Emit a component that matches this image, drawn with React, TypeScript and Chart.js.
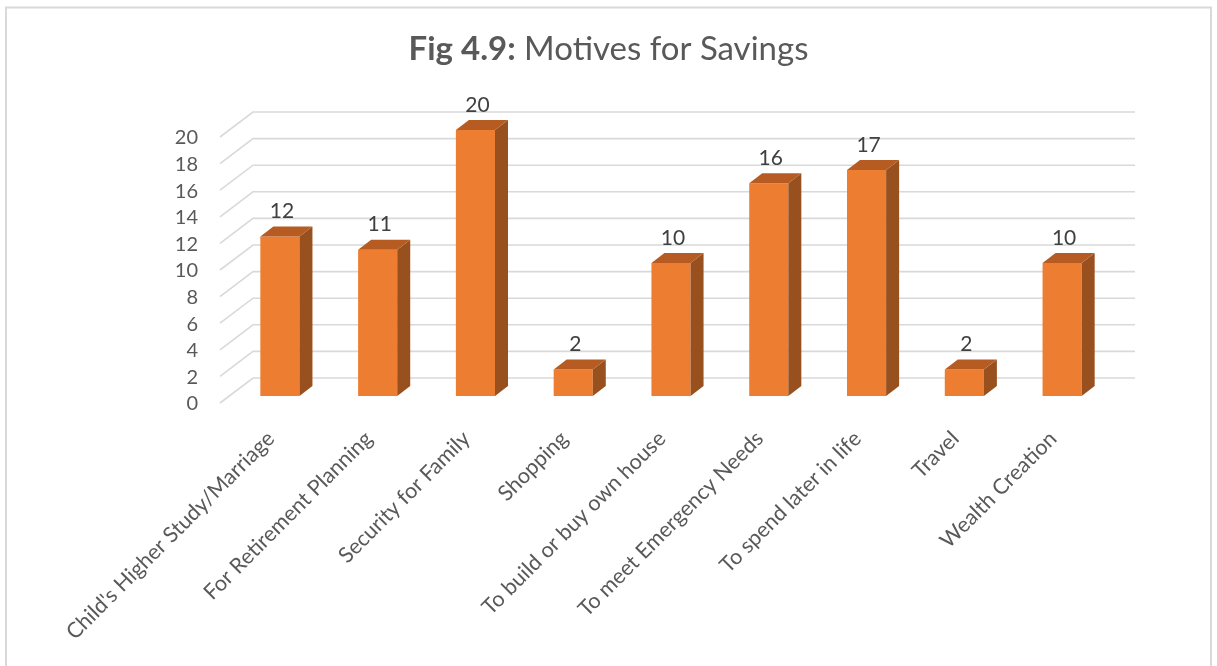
import React, { useEffect, useRef } from "react";
import { Chart, registerables } from "chart.js";

Chart.register(...registerables);

const categories = [
  "Child's Higher Study/Marriage",
  "For Retirement Planning",
  "Security for Family",
  "Shopping",
  "To build or buy own house",
  "To meet Emergency Needs",
  "To spend later in life",
  "Travel",
  "Wealth Creation",
];
const values = [12, 11, 20, 2, 10, 16, 17, 2, 10];
const yMin = 0;
const yMax = 20;
const yStep = 2;
const titleBold = "Fig 4.9:";
const titleRest = " Motives for Savings";

const FONT = "Lato, 'Open Sans', sans-serif";
const TEXT = "#595959";
const GRID = "#d9d9d9";
const FRONT = "#ED7D31";
const TOP = "#B65C22";
const SIDE = "#98501E";
const DX = 13;
const DY = 10;

const deco = {
  id: "deco",
  beforeDatasetsDraw(chart: any) {
    const ctx = chart.ctx;
    const { left, right } = chart.chartArea;
    const ys = chart.scales.y;
    ctx.save();
    // frame
    ctx.strokeStyle = GRID;
    ctx.lineWidth = 2;
    ctx.beginPath();
    ctx.moveTo(6, 700);
    ctx.lineTo(6, 7.5);
    ctx.lineTo(1211, 7.5);
    ctx.lineTo(1211, 700);
    ctx.stroke();
    // gridlines (3D walls)
    ctx.strokeStyle = GRID;
    ctx.lineWidth = 1.6;
    ys.ticks.forEach((t: any) => {
      const y = ys.getPixelForValue(t.value);
      ctx.beginPath();
      ctx.moveTo(left - 11, y + 7);
      ctx.lineTo(left + 22, y - 18);
      ctx.lineTo(right + 24, y - 18);
      ctx.stroke();
    });
    // title
    ctx.fillStyle = TEXT;
    ctx.textBaseline = "alphabetic";
    ctx.font = `bold 33px ${FONT}`;
    const w1 = ctx.measureText(titleBold).width;
    ctx.font = `33px ${FONT}`;
    const w2 = ctx.measureText(titleRest).width;
    const x0 = chart.width / 2 - (w1 + w2) / 2;
    ctx.font = `bold 33px ${FONT}`;
    ctx.textAlign = "left";
    ctx.fillText(titleBold, x0, 60);
    ctx.font = `33px ${FONT}`;
    ctx.fillText(titleRest, x0 + w1, 60);
    ctx.restore();
  },
  afterDatasetsDraw(chart: any) {
    const ctx = chart.ctx;
    const meta = chart.getDatasetMeta(0);
    ctx.save();
    meta.data.forEach((bar: any, i: number) => {
      const l = bar.x - bar.width / 2;
      const r = bar.x + bar.width / 2;
      const top = bar.y;
      const base = bar.base;
      ctx.fillStyle = SIDE;
      ctx.beginPath();
      ctx.moveTo(r, top);
      ctx.lineTo(r + DX, top - DY);
      ctx.lineTo(r + DX, base - DY);
      ctx.lineTo(r, base);
      ctx.closePath();
      ctx.fill();
      ctx.fillStyle = TOP;
      ctx.beginPath();
      ctx.moveTo(l, top);
      ctx.lineTo(l + DX, top - DY);
      ctx.lineTo(r + DX, top - DY);
      ctx.lineTo(r, top);
      ctx.closePath();
      ctx.fill();
      ctx.fillStyle = "#404040";
      ctx.font = `21px ${FONT}`;
      ctx.textAlign = "center";
      ctx.textBaseline = "middle";
      ctx.fillText(String(values[i]), bar.x + 2, top - 25);
    });
    ctx.restore();
  },
};

export default function App() {
  const ref = useRef<HTMLCanvasElement>(null);
  useEffect(() => {
    if (!ref.current) return;
    const chart = new Chart(ref.current, {
      type: "bar",
      data: {
        labels: categories,
        datasets: [
          {
            data: values,
            backgroundColor: FRONT,
            borderWidth: 0,
            categoryPercentage: 1,
            barPercentage: 0.4,
          },
        ],
      },
      options: {
        animation: false,
        responsive: false,
        maintainAspectRatio: false,
        layout: { padding: { left: 10, right: 106, top: 130, bottom: 10 } },
        plugins: {
          legend: { display: false },
          title: { display: false },
          tooltip: { enabled: false },
        },
        scales: {
          x: {
            grid: { display: false, drawTicks: false },
            border: { display: false },
            afterFit: (s: any) => {
              s.height = 260;
            },
            ticks: {
              autoSkip: false,
              maxRotation: 45,
              minRotation: 45,
              padding: 30,
              labelOffset: -9,
              color: TEXT,
              font: { family: FONT, size: 21.5 },
            },
          },
          y: {
            min: yMin,
            max: yMax,
            grid: { display: false, drawTicks: false },
            border: { display: false },
            afterFit: (s: any) => {
              s.width = 221;
            },
            ticks: {
              autoSkip: false,
              stepSize: yStep,
              padding: 33,
              labelOffset: 8,
              color: TEXT,
              font: { family: FONT, size: 20 },
            },
          },
        },
      },
      plugins: [deco],
    });
    return () => chart.destroy();
  }, []);
  return (
    <div style={{ position: "fixed", left: 0, top: 0, width: 1217, height: 666, background: "#fff" }}>
      <canvas ref={ref} width={1217} height={666} style={{ width: 1217, height: 666, display: "block" }} />
    </div>
  );
}
